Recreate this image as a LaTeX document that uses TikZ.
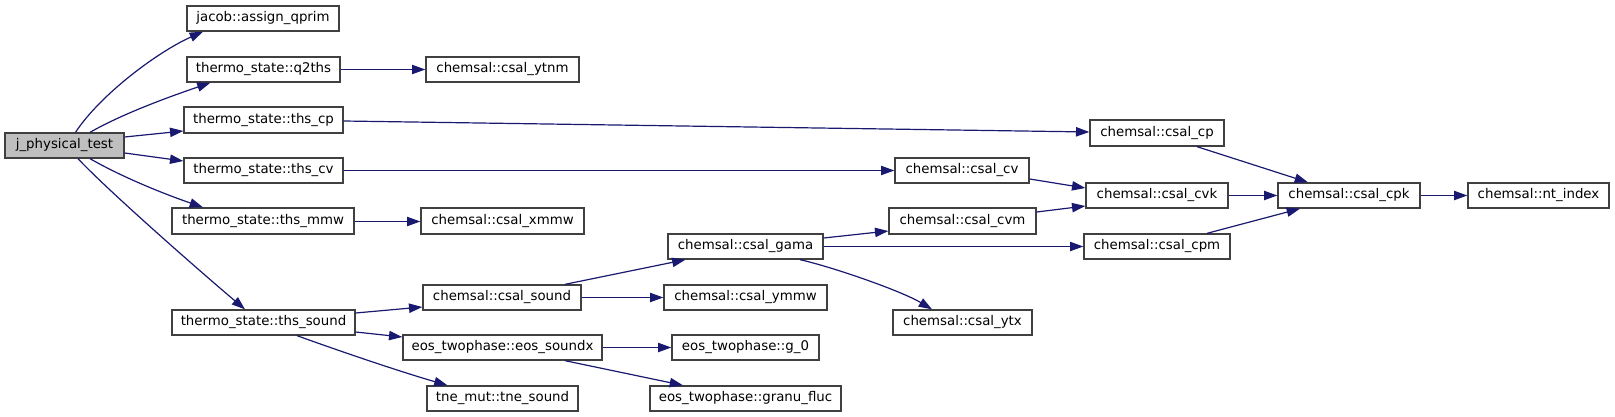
\documentclass[tikz,border=0pt]{standalone}
\usepackage{fontspec}
\setmainfont{DejaVu Sans}
\usetikzlibrary{arrows.meta}
\definecolor{edgec}{HTML}{191970}
\definecolor{boxc}{HTML}{404040}
\definecolor{grayfill}{HTML}{BFBFBF}
\begin{document}
\begin{tikzpicture}[x=0.75pt,y=-0.75pt,
  box/.style 2 args={draw=boxc, line width=1pt, fill=white, inner sep=0pt,
    minimum width=#1*0.75pt, minimum height=#2*0.75pt, font=\fontsize{10pt}{12pt}\selectfont},
  edge/.style={draw=edgec, line width=0.9pt, -{Triangle[length=10pt,width=7pt]}}]
\useasboundingbox (0,0) rectangle (1615,417);
% nodes
\node[box={119}{25}, fill=grayfill] (jpt) at (64.5,145.5) {j\_physical\_test};
\node[box={152}{25}] (aq) at (263,18.5) {jacob::assign\_qprim};
\node[box={153}{25}] (q2) at (263.5,69.5) {thermo\_state::q2ths};
\node[box={159}{26}] (cp) at (263.5,120) {thermo\_state::ths\_cp};
\node[box={159}{25}] (cv) at (263.5,170.5) {thermo\_state::ths\_cv};
\node[box={182}{26}] (mmw) at (263,221) {thermo\_state::ths\_mmw};
\node[box={183}{25}] (snd) at (263.5,322.5) {thermo\_state::ths\_sound};
\node[box={153}{25}] (ytnm) at (502.5,69.5) {chemsal::csal\_ytnm};
\node[box={163}{26}] (xmmw) at (502.5,221) {chemsal::csal\_xmmw};
\node[box={158}{25}] (csnd) at (502,297.5) {chemsal::csal\_sound};
\node[box={199}{25}] (eos) at (502.5,347.5) {eos\_twophase::eos\_soundx};
\node[box={151}{25}] (tne) at (502.5,398.5) {tne\_mut::tne\_sound};
\node[box={155}{25}] (gama) at (745.5,246.5) {chemsal::csal\_gama};
\node[box={163}{25}] (ymmw) at (745.5,297.5) {chemsal::csal\_ymmw};
\node[box={147}{25}] (g0) at (745.5,347.5) {eos\_twophase::g\_0};
\node[box={191}{25}] (gran) at (745.5,398.5) {eos\_twophase::granu\_fluc};
\node[box={134}{26}] (ccp) at (1157,133) {chemsal::csal\_cp};
\node[box={134}{25}] (ccv) at (962,170.5) {chemsal::csal\_cv};
\node[box={147}{26}] (cvm) at (962.5,221) {chemsal::csal\_cvm};
\node[box={139}{25}] (ytx) at (962.5,322.5) {chemsal::csal\_ytx};
\node[box={142}{25}] (cvk) at (1157,195.5) {chemsal::csal\_cvk};
\node[box={146}{25}] (cpm) at (1157,246.5) {chemsal::csal\_cpm};
\node[box={142}{25}] (cpk) at (1349,195.5) {chemsal::csal\_cpk};
\node[box={141}{25}] (nti) at (1538.5,195.5) {chemsal::nt\_index};
% edges from j_physical_test
\draw[edge] ([shift={(11,0)}]jpt.north) .. controls +(25,-38) and +(-45,20) .. ([shift={(-60,0)}]aq.south);
\draw[edge] ([shift={(25.5,0)}]jpt.north) .. controls +(35,-20) and +(-35,12) .. ([shift={(-53,0)}]q2.south);
\draw[edge] ([shift={(0,-8.5)}]jpt.east) -- ([shift={(0,11)}]cp.west);
\draw[edge] ([shift={(0,7.5)}]jpt.east) -- ([shift={(0,-9.5)}]cv.west);
\draw[edge] ([shift={(25.5,0)}]jpt.south) .. controls +(35,20) and +(-35,-12) .. ([shift={(-60,0)}]mmw.north);
\draw[edge] ([shift={(13.5,0)}]jpt.south) .. controls +(30,32) and +(-45,-38) .. ([shift={(-18.5,0)}]snd.north);
% second level
\draw[edge] (q2) -- (ytnm);
\draw[edge] ([shift={(0,1)}]cp.east) -- ([shift={(0,-1)}]ccp.west);
\draw[edge] (cv) -- (ccv);
\draw[edge] ([shift={(0,0.5)}]mmw.east) -- ([shift={(0,0.5)}]xmmw.west);
\draw[edge] ([shift={(0,-9.5)}]snd.east) -- ([shift={(0,9.5)}]csnd.west);
\draw[edge] ([shift={(0,9.5)}]snd.east) -- ([shift={(0,-10.5)}]eos.west);
\draw[edge] ([shift={(33.5,0)}]snd.south) .. controls +(50,18) and +(-45,-13) .. ([shift={(-55,0)}]tne.north);
% third level
\draw[edge] ([shift={(63,0)}]csnd.north) -- ([shift={(-60,0)}]gama.south);
\draw[edge] (csnd) -- (ymmw);
\draw[edge] (eos) -- (g0);
\draw[edge] ([shift={(62.5,0)}]eos.south) -- ([shift={(-62.5,0)}]gran.north);
\draw[edge] ([shift={(0,-8.5)}]gama.east) -- ([shift={(0,10)}]cvm.west);
\draw[edge] (gama) -- (cpm);
\draw[edge] ([shift={(54.5,0)}]gama.south) .. controls +(35,8) and +(-30,-18) .. ([shift={(-30.5,0)}]ytx.north);
% to cvk / cpk
\draw[edge] ([shift={(0,8.5)}]ccv.east) -- ([shift={(0,-7.5)}]cvk.west);
\draw[edge] ([shift={(0,-9)}]cvm.east) -- ([shift={(0,10.5)}]cvk.west);
\draw[edge] ([shift={(40,0)}]ccp.south) -- ([shift={(-41,0)}]cpk.north);
\draw[edge] (cvk) -- (cpk);
\draw[edge] ([shift={(50,0)}]cpm.north) -- ([shift={(-49,0)}]cpk.south);
\draw[edge] (cpk) -- (nti);
\end{tikzpicture}
\end{document}
